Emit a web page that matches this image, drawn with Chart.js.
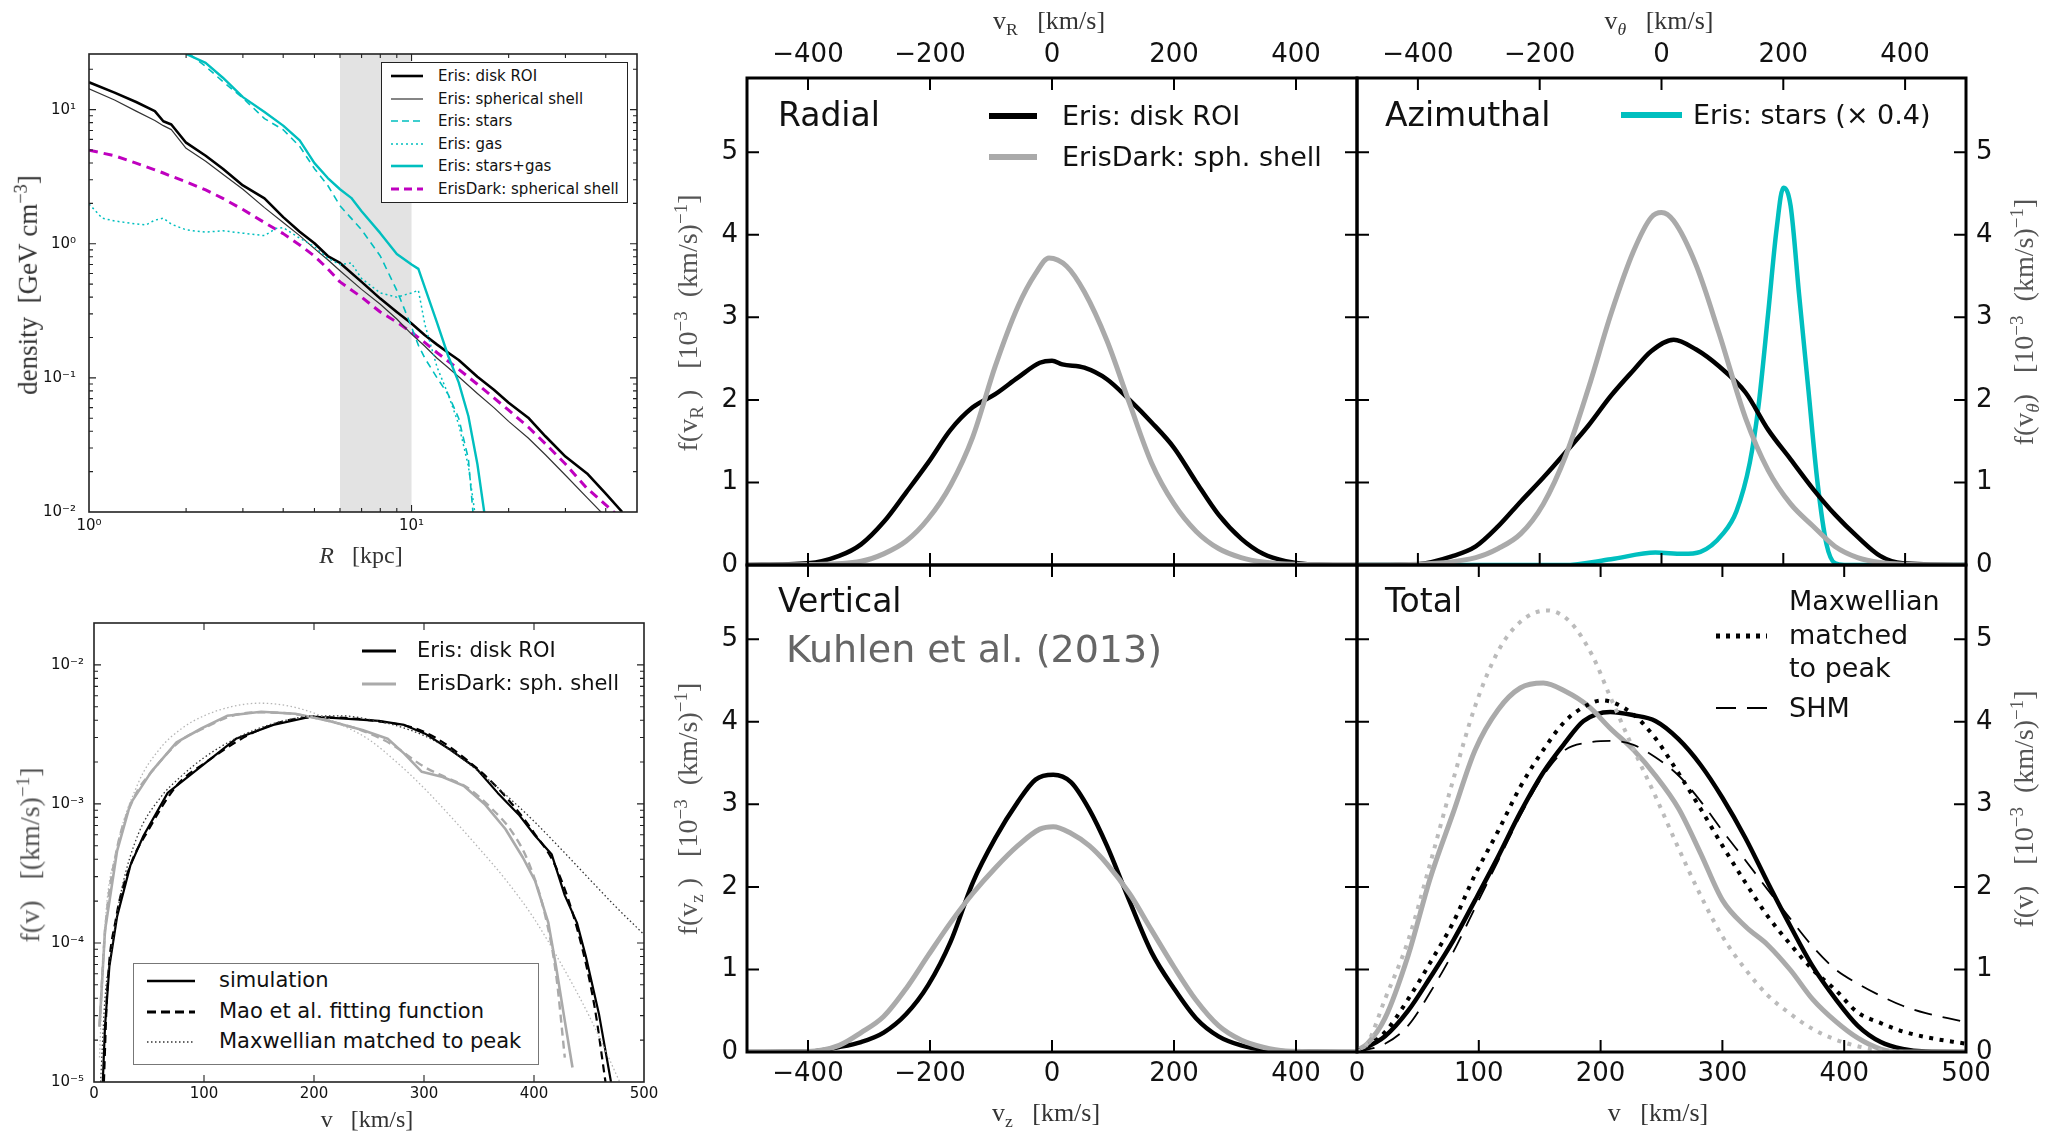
<!DOCTYPE html>
<html lang="en">
<head>
<meta charset="utf-8">
<title>Eris / ErisDark velocity distributions</title>
<script src="https://cdn.jsdelivr.net/npm/chart.js@4.4.1/dist/chart.umd.min.js"></script>
<style>
    html, body { margin: 0; padding: 0; background: #fff; }
    body { position: relative; width: 2045px; height: 1134px; overflow: hidden; font-family: 'DejaVu Sans', sans-serif; color: #111; }
    canvas { position: absolute; }
    .t { position: absolute; white-space: nowrap; line-height: 1.2; }
    .serif { font-family: 'Liberation Serif', 'DejaVu Serif', serif; }
    .t sub, .t sup { font-size: 68%; line-height: 0; }
    .t sub { vertical-align: -0.3em; }
    .t sup { vertical-align: 0.55em; }
    .box { position: absolute; background: #fff; box-sizing: border-box; }
    svg.s { position: absolute; overflow: visible; }
</style>
</head>
<body>
<script>
/**
 * Density profiles (top left), speed distribution on a log axis (bottom left)
 * and the radial / azimuthal / vertical / total velocity distributions (right).
 */

// ---- top left: density vs R (GeV cm^-3) ----
const rGrid = [1, 1.2, 1.4, 1.6, 1.7, 1.8, 2, 2.3, 2.6, 3, 3.5, 4, 4.5, 5, 5.5, 6, 7, 8, 9, 10, 11, 12, 13, 14, 16, 18, 20, 23, 26, 30, 35, 40, 45];
const rhoDiskRoi = [16.0, 13.4, 11.4, 9.75, 8.2, 7.75, 5.67, 4.53, 3.63, 2.72, 2.18, 1.58, 1.23, 1.01, 0.81, 0.72, 0.52, 0.39, 0.31, 0.254, 0.208, 0.177, 0.154, 0.136, 0.102, 0.0815, 0.0652, 0.0505, 0.0367, 0.0259, 0.0194, 0.0137, 0.0100];
const rhoShell = [14.3, 11.8, 9.75, 8.3, 7.6, 7.1, 5.15, 4.12, 3.3, 2.55, 1.86, 1.44, 1.15, 0.92, 0.76, 0.63, 0.457, 0.354, 0.275, 0.212, 0.172, 0.14, 0.119, 0.102, 0.0765, 0.06, 0.0474, 0.0356, 0.0267, 0.0188, 0.0128, 0.0092, 0.0068];
const rhoDarkShell = [4.99, 4.53, 3.99, 3.56, 3.37, 3.19, 2.9, 2.52, 2.18, 1.8, 1.44, 1.19, 0.98, 0.81, 0.65, 0.52, 0.40, 0.31, 0.26, 0.219, 0.183, 0.154, 0.133, 0.116, 0.0897, 0.071, 0.0574, 0.043, 0.0323, 0.0228, 0.015, 0.0113, 0.0088];
const rStarsGas = [2.0, 2.3, 2.6, 3, 3.5, 4, 4.5, 5, 5.5, 6, 6.5, 7, 8, 9, 10, 10.5, 12, 13, 14, 15, 16, 16.8];
const rhoStarsGas = [26, 22.3, 17.3, 12.4, 9.6, 7.6, 5.9, 3.99, 3.09, 2.55, 2.2, 1.75, 1.2, 0.84, 0.70, 0.65, 0.257, 0.145, 0.0926, 0.052, 0.0228, 0.01];
const rStars = [2.05, 2.3, 2.6, 3, 3.5, 4, 4.5, 5, 5.5, 6, 7, 8, 9, 10, 10.5, 11, 12, 13, 14, 15, 15.5];
const rhoStars = [26, 21, 16.2, 12.2, 8.58, 7.08, 5.32, 3.63, 2.72, 1.92, 1.27, 0.81, 0.45, 0.24, 0.175, 0.14, 0.1, 0.075, 0.05, 0.025, 0.01];
const rGas = [1, 1.1, 1.2, 1.35, 1.5, 1.6, 1.7, 1.8, 2, 2.3, 2.6, 3, 3.5, 3.8, 4, 4.5, 5, 5.5, 6, 6.5, 7, 8, 9, 10, 10.5, 11, 12, 13, 14, 15, 15.7];
const rhoGas = [1.98, 1.55, 1.48, 1.42, 1.38, 1.5, 1.55, 1.4, 1.27, 1.22, 1.25, 1.2, 1.15, 1.3, 1.32, 1.1, 0.95, 0.78, 0.7, 0.72, 0.55, 0.43, 0.40, 0.43, 0.45, 0.25, 0.12, 0.075, 0.045, 0.022, 0.01];
const roiBand = [6, 10];
const rTicks = [1, 10];
const rhoTicks = [0.01, 0.1, 1, 10];

// ---- bottom left: f(v) on a log axis ((km/s)^-1) ----
const fvDiskV = [8, 10, 14, 21, 33, 45, 67, 100, 129, 163, 198, 228, 259, 282, 301, 324, 347, 367, 386, 401, 416, 428, 439, 447, 459, 470];
const fvDisk = [1e-5, 2.5e-5, 6.8e-5, 1.55e-4, 3.6e-4, 5.9e-4, 1.2e-3, 1.93e-3, 2.94e-3, 3.7e-3, 4.25e-3, 4.1e-3, 3.95e-3, 3.7e-3, 3.2e-3, 2.45e-3, 1.82e-3, 1.2e-3, 8.4e-4, 5.9e-4, 4.35e-4, 2.2e-4, 1.4e-4, 8.1e-5, 3.1e-5, 1e-5];
const fvDiskFitV = [9, 12, 20, 33, 50, 75, 100, 150, 200, 250, 300, 350, 380, 400, 420, 440, 455, 465];
const fvDiskFit = [1e-5, 4.5e-5, 1.5e-4, 3.6e-4, 6.6e-4, 1.35e-3, 1.95e-3, 3.4e-3, 4.2e-3, 4.0e-3, 3.3e-3, 1.75e-3, 1e-3, 6.2e-4, 3.5e-4, 1.2e-4, 3.5e-5, 1e-5];
const fvDiskMaxV = [6, 10, 15, 25, 40, 60, 80, 100, 125, 150, 175, 200, 225, 250, 275, 300, 325, 350, 375, 400, 425, 450, 475, 500];
const fvDiskMax = [1e-5, 4e-5, 8e-5, 2.4e-4, 6e-4, 1.1e-3, 1.6e-3, 2.15e-3, 2.85e-3, 3.5e-3, 4.0e-3, 4.3e-3, 4.3e-3, 4.05e-3, 3.65e-3, 3.1e-3, 2.4e-3, 1.7e-3, 1.15e-3, 7.5e-4, 4.7e-4, 2.9e-4, 1.8e-4, 1.15e-4];
const fvDarkV = [5, 10, 21, 33, 52, 75, 98, 121, 152, 183, 213, 244, 267, 282, 298, 317, 336, 355, 374, 390, 401, 413, 420, 428, 435];
const fvDark = [2.5e-5, 1.23e-4, 4.6e-4, 1e-3, 1.7e-3, 2.77e-3, 3.5e-3, 4.3e-3, 4.6e-3, 4.45e-3, 3.96e-3, 3.4e-3, 2.94e-3, 2.3e-3, 1.7e-3, 1.56e-3, 1.35e-3, 1e-3, 6.6e-4, 4.1e-4, 2.8e-4, 1.4e-4, 6.8e-5, 2.75e-5, 1.27e-5];
const fvDarkFitV = [5, 10, 20, 35, 55, 80, 100, 125, 150, 180, 210, 240, 270, 300, 320, 340, 360, 380, 395, 410, 420, 428];
const fvDarkFit = [2.5e-5, 1.2e-4, 4.4e-4, 1.05e-3, 1.8e-3, 2.9e-3, 3.5e-3, 4.3e-3, 4.55e-3, 4.45e-3, 4.0e-3, 3.45e-3, 2.7e-3, 1.85e-3, 1.55e-3, 1.3e-3, 9.5e-4, 6.3e-4, 3.8e-4, 1.6e-4, 6e-5, 1.5e-5];
const fvDarkMaxV = [5, 10, 20, 40, 60, 80, 100, 125, 150, 175, 200, 225, 250, 275, 300, 325, 350, 375, 400, 425, 450, 478];
const fvDarkMax = [1.5e-5, 1.3e-4, 4.5e-4, 1.4e-3, 2.5e-3, 3.5e-3, 4.3e-3, 5.0e-3, 5.3e-3, 5.1e-3, 4.5e-3, 3.7e-3, 2.9e-3, 2.0e-3, 1.3e-3, 8e-4, 4.8e-4, 2.8e-4, 1.5e-4, 7e-5, 3e-5, 1e-5];
const speedTicks = [0, 100, 200, 300, 400, 500];
const fvLogTicks = [1e-5, 1e-4, 1e-3, 1e-2];

// ---- right: components, in 10^-3 (km/s)^-1 ----
const radialV = [-500, -400, -349, -313, -276, -239, -203, -166, -130, -93, -56, -20, 0, 17, 53, 90, 127, 163, 200, 236, 273, 310, 346, 383, 419, 500];
const radialDisk = [0, 0.02, 0.11, 0.25, 0.52, 0.88, 1.24, 1.64, 1.91, 2.07, 2.27, 2.45, 2.475, 2.43, 2.39, 2.25, 2.0, 1.73, 1.42, 1.01, 0.61, 0.32, 0.135, 0.045, 0.01, 0];
const radialDarkV = [-500, -400, -313, -276, -239, -203, -166, -130, -93, -56, -27, -5, 24, 53, 90, 127, 163, 200, 236, 273, 310, 346, 400, 500];
const radialDark = [0, 0.005, 0.045, 0.135, 0.29, 0.56, 0.97, 1.55, 2.41, 3.13, 3.53, 3.72, 3.62, 3.31, 2.72, 1.96, 1.24, 0.74, 0.41, 0.2, 0.09, 0.036, 0.008, 0];

const azimV = [-500, -400, -342, -305, -268, -231, -194, -157, -120, -83, -46, -17, 20, 57, 94, 138, 175, 212, 249, 285, 322, 359, 396, 500];
const azimDisk = [0, 0.01, 0.11, 0.225, 0.47, 0.77, 1.06, 1.37, 1.69, 2.05, 2.36, 2.59, 2.73, 2.61, 2.41, 2.09, 1.64, 1.28, 0.92, 0.61, 0.34, 0.11, 0.02, 0];
const azimDarkV = [-500, -400, -305, -268, -231, -194, -157, -120, -83, -46, -17, 0, 20, 57, 94, 138, 175, 212, 249, 285, 322, 359, 396, 500];
const azimDark = [0, 0.01, 0.09, 0.2, 0.38, 0.74, 1.33, 2.14, 3.04, 3.8, 4.21, 4.27, 4.17, 3.63, 2.82, 1.78, 1.15, 0.74, 0.47, 0.225, 0.09, 0.03, 0.01, 0];
const azimStarsV = [-500, -160, -83, -10, 35, 64, 101, 123, 145, 159, 175, 189, 200, 212, 226, 241, 256, 271, 285, 300, 500];
const azimStars = [0, 0, 0.07, 0.15, 0.135, 0.16, 0.38, 0.65, 1.24, 1.91, 3.04, 4.07, 4.57, 4.35, 3.27, 2.14, 1.01, 0.25, 0.02, 0, 0];

const vertV = [-500, -400, -349, -313, -276, -239, -203, -166, -130, -93, -56, -27, 2, 31, 61, 90, 127, 163, 200, 236, 273, 310, 346, 400, 500];
const vertDisk = [0, 0.005, 0.06, 0.12, 0.235, 0.46, 0.81, 1.34, 2.05, 2.59, 3.03, 3.3, 3.36, 3.27, 2.94, 2.5, 1.83, 1.21, 0.77, 0.41, 0.19, 0.08, 0.027, 0.005, 0];
const vertDarkV = [-500, -400, -349, -313, -276, -239, -203, -166, -130, -93, -56, -20, 2, 31, 61, 90, 127, 163, 200, 236, 273, 310, 346, 383, 500];
const vertDark = [0, 0.005, 0.08, 0.235, 0.43, 0.77, 1.17, 1.57, 1.92, 2.23, 2.5, 2.7, 2.73, 2.65, 2.5, 2.28, 1.92, 1.48, 1.03, 0.63, 0.32, 0.146, 0.058, 0.013, 0];

const totalV = [0, 23, 42, 60, 79, 97, 116, 134, 153, 171, 186, 208, 227, 245, 264, 282, 300, 319, 337, 356, 374, 393, 411, 430, 448, 467, 500];
const totalDisk = [0, 0.19, 0.5, 0.9, 1.35, 1.84, 2.37, 2.9, 3.39, 3.75, 4.01, 4.12, 4.08, 4.01, 3.79, 3.48, 3.08, 2.59, 2.06, 1.52, 1.04, 0.64, 0.32, 0.12, 0.036, 0.005, 0];
const totalDarkV = [0, 8.5, 23, 42, 60, 79, 97, 116, 134, 153, 171, 190, 208, 227, 245, 264, 282, 300, 319, 337, 356, 374, 393, 411, 430, 448, 500];
const totalDark = [0.02, 0.1, 0.41, 1.17, 2.1, 2.9, 3.66, 4.15, 4.41, 4.47, 4.37, 4.19, 3.92, 3.66, 3.35, 2.95, 2.41, 1.84, 1.52, 1.3, 0.99, 0.64, 0.37, 0.17, 0.036, 0, 0];
const totalDiskMaxV = [0, 23, 42, 60, 79, 97, 116, 134, 153, 171, 190, 201, 226, 245, 263, 282, 300, 319, 337, 356, 374, 393, 411, 430, 448, 467, 500];
const totalDiskMax = [0, 0.24, 0.64, 1.08, 1.57, 2.15, 2.68, 3.21, 3.66, 4.01, 4.21, 4.26, 4.1, 3.8, 3.4, 2.95, 2.5, 2.05, 1.65, 1.3, 1.0, 0.75, 0.48, 0.35, 0.25, 0.18, 0.1];
const totalDarkMaxV = [0, 8.5, 23, 42, 60, 79, 97, 116, 134, 156, 175, 193, 208, 226, 245, 263, 282, 300, 319, 337, 356, 374, 393, 411, 430, 450];
const totalDarkMax = [0, 0.1, 0.64, 1.35, 2.28, 3.3, 4.19, 4.86, 5.21, 5.35, 5.21, 4.81, 4.3, 3.7, 3.1, 2.5, 1.9, 1.4, 1.0, 0.69, 0.46, 0.28, 0.15, 0.07, 0.02, 0];
const shmV = [0, 23, 42, 60, 79, 97, 116, 134, 153, 171, 190, 208, 227, 245, 264, 282, 300, 319, 337, 356, 374, 393, 411, 430, 448, 467, 485, 500];
const shm = [0, 0.1, 0.32, 0.72, 1.21, 1.75, 2.32, 2.86, 3.35, 3.66, 3.75, 3.77, 3.72, 3.57, 3.35, 3.04, 2.68, 2.32, 1.97, 1.61, 1.28, 1.0, 0.83, 0.68, 0.56, 0.47, 0.41, 0.36];

const compTicks = [-400, -200, 0, 200, 400];
const fTicks = [0, 1, 2, 3, 4, 5];

// ---- layout (page pixels) ----
const BOX = {
    density: { l: 89, t: 54, w: 548, h: 458 },
    fvLog: { l: 94, t: 623, w: 550, h: 459 },
    radial: { l: 747, t: 78, w: 610, h: 487 },
    azim: { l: 1357, t: 78, w: 609, h: 487 },
    vert: { l: 747, t: 565, w: 610, h: 487 },
    total: { l: 1357, t: 565, w: 609, h: 487 },
};

const BLACK = '#000';
const GRAY = '#aaaaaa';
const LIGHT = '#bbbbbb';
const CYAN = '#00bfbf';
const MAGENTA = '#bf00bf';

Chart.defaults.font.family = "'DejaVu Sans', sans-serif";
Chart.defaults.color = '#111';

const xy = (xs, ys) => xs.map((x, i) => ({ x, y: ys[i] }));
const SUP = { '-': '\u207b', 0: '\u2070', 1: '\u00b9', 2: '\u00b2', 3: '\u00b3', 4: '\u2074', 5: '\u2075' };
const pow10 = (v) => '10' + String(Math.round(Math.log10(v))).split('').map((c) => SUP[c]).join('');
const signed = (v) => (v < 0 ? '\u2212' + Math.abs(v) : String(v));

function decadeMinors(lo, hi) {
    const out = [];
    for (let d = lo; d < hi; d *= 10) {
        for (let k = 2; k <= 9; k++) out.push(k * d);
    }
    return out;
}

// frame + inward ticks on all four sides, optional shaded x-band
const frameTicks = {
    id: 'frameTicks',
    beforeDatasetsDraw(chart, args, o) {
        if (!o.band) return;
        const { ctx, chartArea: a, scales: { x } } = chart;
        const x0 = x.getPixelForValue(o.band[0]);
        const x1 = x.getPixelForValue(o.band[1]);
        ctx.save();
        ctx.fillStyle = o.bandColor;
        ctx.fillRect(x0, a.top, x1 - x0, a.bottom - a.top);
        ctx.restore();
    },
    afterDatasetsDraw(chart, args, o) {
        const { ctx, chartArea: a, scales: { x, y } } = chart;
        ctx.save();
        ctx.strokeStyle = o.color;
        ctx.lineWidth = o.tickWidth;
        ctx.beginPath();
        const xt = (vals, len) => (vals || []).forEach((v) => {
            const p = x.getPixelForValue(v);
            if (p < a.left + 1 || p > a.right - 1) return;
            ctx.moveTo(p, a.bottom); ctx.lineTo(p, a.bottom - len);
            ctx.moveTo(p, a.top); ctx.lineTo(p, a.top + len);
        });
        const yt = (vals, len) => (vals || []).forEach((v) => {
            const p = y.getPixelForValue(v);
            if (p < a.top + 1 || p > a.bottom - 1) return;
            ctx.moveTo(a.left, p); ctx.lineTo(a.left + len, p);
            ctx.moveTo(a.right, p); ctx.lineTo(a.right - len, p);
        });
        xt(o.xMajor, o.majorLen); xt(o.xMinor, o.minorLen);
        yt(o.yMajor, o.majorLen); yt(o.yMinor, o.minorLen);
        ctx.stroke();
        ctx.lineWidth = o.frameWidth;
        ctx.strokeRect(a.left, a.top, a.right - a.left, a.bottom - a.top);
        ctx.restore();
    },
};

function axis(type, position, min, max, ticks, fmt, size, padding) {
    return {
        type, position, min, max,
        grid: { display: false, drawTicks: false },
        border: { display: false },
        afterBuildTicks: (sc) => { sc.ticks = ticks.map((value) => ({ value })); },
        ticks: { callback: fmt, font: { size }, padding, color: '#111', maxRotation: 0, autoSkip: false },
    };
}

function line(data, color, width, dash, smooth) {
    return {
        data, borderColor: color, borderWidth: width, borderDash: dash || [],
        pointRadius: 0, fill: false, tension: 0, borderCapStyle: 'butt', borderJoinStyle: 'round',
        cubicInterpolationMode: smooth ? 'monotone' : 'default',
    };
}

// fixed axis thickness and no label overhang, so the plot area lands exactly on box
function pinAxis(sc, horizontal, size) {
    if (horizontal) sc.height = size; else sc.width = size;
    sc.paddingTop = 0; sc.paddingBottom = 0; sc.paddingLeft = 0; sc.paddingRight = 0;
}

function panel(box, m, scales, datasets, deco) {
    const c = document.createElement('canvas');
    const w = box.w + m.l + m.r;
    const h = box.h + m.t + m.b;
    c.width = w; c.height = h;
    Object.assign(c.style, { left: (box.l - m.l) + 'px', top: (box.t - m.t) + 'px', width: w + 'px', height: h + 'px' });
    document.body.appendChild(c);
    const key = { left: 'l', right: 'r', top: 't', bottom: 'b' };
    const used = [scales.x.position, scales.y.position];
    const padding = {};
    Object.keys(key).forEach((s) => { padding[s] = used.includes(s) ? 0 : m[key[s]]; });
    scales.x.afterFit = (sc) => pinAxis(sc, true, m[key[scales.x.position]]);
    scales.y.afterFit = (sc) => pinAxis(sc, false, m[key[scales.y.position]]);
    return new Chart(c, {
        type: 'line',
        data: { datasets },
        options: {
            responsive: false, animation: false, devicePixelRatio: 1,
            layout: { padding, autoPadding: false },
            plugins: { legend: { display: false }, tooltip: { enabled: false }, frameTicks: deco },
            scales,
        },
        plugins: [frameTicks],
    });
}

// ---------- charts ----------
const thinDeco = { color: '#222', tickWidth: 1.1, frameWidth: 1.6, majorLen: 7, minorLen: 4 };
const thickDeco = { color: '#000', tickWidth: 2, frameWidth: 3, majorLen: 12, minorLen: 6 };

panel(BOX.density, { l: 75, r: 20, t: 20, b: 30 }, {
    x: axis('logarithmic', 'bottom', 1, 50, rTicks, pow10, 15, 5),
    y: axis('logarithmic', 'left', 0.01, 26, rhoTicks, pow10, 15, 13),
}, [
    line(xy(rGas, rhoGas), CYAN, 1.5, [2, 3]),
    line(xy(rStars, rhoStars), CYAN, 1.6, [7, 5]),
    line(xy(rStarsGas, rhoStarsGas), CYAN, 2.4),
    line(xy(rGrid, rhoShell), '#333', 1.2),
    line(xy(rGrid, rhoDarkShell), MAGENTA, 3, [9, 6]),
    line(xy(rGrid, rhoDiskRoi), BLACK, 2.6),
], {
    ...thinDeco, band: roiBand, bandColor: '#e3e3e3',
    xMajor: rTicks, xMinor: decadeMinors(1, 10).concat([20, 30, 40]),
    yMajor: rhoTicks, yMinor: decadeMinors(0.01, 10).concat([20]),
});

panel(BOX.fvLog, { l: 75, r: 20, t: 20, b: 30 }, {
    x: axis('linear', 'bottom', 0, 500, speedTicks, signed, 15, 3),
    y: axis('logarithmic', 'left', 1e-5, 0.02, fvLogTicks, pow10, 15, 10),
}, [
    line(xy(fvDarkMaxV, fvDarkMax), '#b5b5b5', 1.3, [1.5, 2.5], true),
    line(xy(fvDiskMaxV, fvDiskMax), '#333', 1.3, [1.5, 2.5], true),
    line(xy(fvDarkFitV, fvDarkFit), GRAY, 2.4, [8, 5], true),
    line(xy(fvDarkV, fvDark), GRAY, 2.6),
    line(xy(fvDiskFitV, fvDiskFit), BLACK, 2.2, [8, 5], true),
    line(xy(fvDiskV, fvDisk), BLACK, 2.2),
], {
    ...thinDeco, xMajor: speedTicks, yMajor: fvLogTicks, yMinor: decadeMinors(1e-5, 1e-2).concat([0.02]),
});

const fAxis = (pos) => axis('linear', pos, 0, 5.9, fTicks, signed, 26, pos === 'left' ? 9 : 10);
const compAxis = (pos) => axis('linear', pos, -500, 500, compTicks, signed, 26, 7);

panel(BOX.radial, { l: 50, r: 20, t: 50, b: 20 }, { x: compAxis('top'), y: fAxis('left') }, [
    line(xy(radialDarkV, radialDark), GRAY, 5, null, true),
    line(xy(radialV, radialDisk), BLACK, 4.5, null, true),
], { ...thickDeco, xMajor: compTicks, yMajor: fTicks });

panel(BOX.azim, { l: 20, r: 55, t: 50, b: 20 }, { x: compAxis('top'), y: fAxis('right') }, [
    line(xy(azimDarkV, azimDark), GRAY, 5, null, true),
    line(xy(azimV, azimDisk), BLACK, 4.5, null, true),
    line(xy(azimStarsV, azimStars), CYAN, 4.5, null, true),
], { ...thickDeco, xMajor: compTicks, yMajor: fTicks });

panel(BOX.vert, { l: 50, r: 20, t: 20, b: 50 }, { x: compAxis('bottom'), y: fAxis('left') }, [
    line(xy(vertDarkV, vertDark), GRAY, 5, null, true),
    line(xy(vertV, vertDisk), BLACK, 4.5, null, true),
], { ...thickDeco, xMajor: compTicks, yMajor: fTicks });

panel(BOX.total, { l: 20, r: 55, t: 20, b: 50 }, {
    x: axis('linear', 'bottom', 0, 500, speedTicks, signed, 26, 7),
    y: fAxis('right'),
}, [
    line(xy(totalDarkMaxV, totalDarkMax), LIGHT, 4, [4, 6.5], true),
    line(xy(totalDiskMaxV, totalDiskMax), BLACK, 4, [4, 6.5], true),
    line(xy(shmV, shm), BLACK, 1.8, [18, 11], true),
    line(xy(totalDarkV, totalDark), GRAY, 5, null, true),
    line(xy(totalV, totalDisk), BLACK, 4.5, null, true),
], { ...thickDeco, xMajor: speedTicks, yMajor: fTicks });

// ---------- text, legends ----------
function txt(html, x, y, opt = {}) {
    const d = document.createElement('div');
    d.className = 't' + (opt.serif ? ' serif' : '');
    d.innerHTML = html;
    d.style.left = x + 'px';
    d.style.top = y + 'px';
    d.style.fontSize = (opt.size || 26) + 'px';
    if (opt.color) d.style.color = opt.color;
    const a = opt.anchor || 'l';
    d.style.transform = a === 'c' ? 'translate(-50%,-50%)' : a === 'rot' ? 'translate(-50%,-50%) rotate(-90deg)' : 'translateY(-50%)';
    document.body.appendChild(d);
}

function sample(x1, x2, y, color, width, dash) {
    const ns = 'http://www.w3.org/2000/svg';
    const s = document.createElementNS(ns, 'svg');
    s.setAttribute('class', 's');
    s.setAttribute('width', x2 - x1);
    s.setAttribute('height', 2);
    s.style.left = x1 + 'px';
    s.style.top = (y - 1) + 'px';
    const l = document.createElementNS(ns, 'line');
    l.setAttribute('x1', 0); l.setAttribute('y1', 1);
    l.setAttribute('x2', x2 - x1); l.setAttribute('y2', 1);
    l.setAttribute('stroke', color);
    l.setAttribute('stroke-width', width);
    if (dash) l.setAttribute('stroke-dasharray', dash.join(' '));
    s.appendChild(l);
    document.body.appendChild(s);
}

function frame(x, y, w, h, border) {
    const d = document.createElement('div');
    d.className = 'box';
    Object.assign(d.style, { left: x + 'px', top: y + 'px', width: w + 'px', height: h + 'px', border });
    document.body.appendChild(d);
}

// top-left legend
frame(381, 62, 247, 141, '1.3px solid #222');
[
    ['Eris: disk ROI', BLACK, 2.6, null],
    ['Eris: spherical shell', '#333', 1.2, null],
    ['Eris: stars', CYAN, 1.6, [7, 4]],
    ['Eris: gas', CYAN, 1.5, [2, 3]],
    ['Eris: stars+gas', CYAN, 2.6, null],
    ['ErisDark: spherical shell', MAGENTA, 3, [8, 5]],
].forEach(([label, col, w, dash], i) => {
    const y = 76 + i * 22.6;
    sample(391, 423, y, col, w, dash);
    txt(label, 438, y, { size: 15 });
});
txt('density&nbsp;&nbsp;[GeV&nbsp;cm<sup>\u22123</sup>]', 28, 285, { serif: true, size: 27, anchor: 'rot', color: '#333' });
txt('<i>R</i>&nbsp;&nbsp;&nbsp;[kpc]', 361, 555, { serif: true, size: 24, anchor: 'c', color: '#333' });

// bottom-left legends
sample(362, 396, 651, BLACK, 3);
txt('Eris: disk ROI', 417, 651, { size: 21 });
sample(362, 396, 684, GRAY, 3);
txt('ErisDark: sph. shell', 417, 684, { size: 21 });
frame(133, 963, 406, 102, '1.3px solid #777');
[
    ['simulation', BLACK, 2.6, null],
    ['Mao et al. fitting function', BLACK, 3, [9, 5]],
    ['Maxwellian matched to peak', '#333', 1.3, [1.5, 2.5]],
].forEach(([label, col, w, dash], i) => {
    const y = 981 + i * 30.5;
    sample(147, 195, y, col, w, dash);
    txt(label, 219, y, { size: 21 });
});
txt('f(v)&nbsp;&nbsp;&nbsp;[(km/s)<sup>\u22121</sup>]', 30, 855, { serif: true, size: 28, anchor: 'rot', color: '#555' });
txt('v&nbsp;&nbsp;&nbsp;[km/s]', 367, 1119, { serif: true, size: 24, anchor: 'c', color: '#333' });

// right panels
txt('Radial', 778, 115, { size: 33 });
sample(989, 1037, 116, BLACK, 6);
txt('Eris: disk ROI', 1062, 116, { size: 27 });
sample(989, 1037, 157, GRAY, 6);
txt('ErisDark: sph. shell', 1062, 157, { size: 27 });

txt('Azimuthal', 1385, 115, { size: 33 });
sample(1621, 1682, 115, CYAN, 6);
txt('Eris: stars (\u00d7 0.4)', 1693, 115, { size: 27 });

txt('Vertical', 778, 601, { size: 33 });
txt('Kuhlen et al. (2013)', 786, 650, { size: 38, color: '#666' });

txt('Total', 1385, 601, { size: 33 });
txt('Maxwellian', 1789, 601, { size: 27 });
txt('matched', 1789, 635, { size: 27 });
txt('to peak', 1789, 668, { size: 27 });
sample(1716, 1767, 636, BLACK, 5, [4, 6]);
txt('SHM', 1789, 708, { size: 27 });
sample(1716, 1767, 708, BLACK, 2, [20, 11]);

const xTitle = { serif: true, size: 26, anchor: 'c', color: '#333' };
txt('v<sub>R</sub>&nbsp;&nbsp;&nbsp;[km/s]', 1049, 21, xTitle);
txt('v<sub><i>\u03b8</i></sub>&nbsp;&nbsp;&nbsp;[km/s]', 1659, 21, xTitle);
txt('v<sub>z</sub>&nbsp;&nbsp;&nbsp;[km/s]', 1046, 1113, xTitle);
txt('v&nbsp;&nbsp;&nbsp;[km/s]', 1658, 1113, xTitle);

const yTitle = { serif: true, size: 28, anchor: 'rot', color: '#555' };
const unit = '&nbsp;&nbsp;&nbsp;[10<sup>\u22123</sup>&nbsp;&nbsp;(km/s)<sup>\u22121</sup>]';
txt('f(v<sub>R</sub>&nbsp;)' + unit, 688, 323, yTitle);
txt('f(v<sub>z</sub>&nbsp;)' + unit, 688, 809, yTitle);
txt('f(v<sub><i>\u03b8</i></sub>)' + unit, 2024, 322, yTitle);
txt('f(v)' + unit, 2024, 809, yTitle);
</script>
</body>
</html>
